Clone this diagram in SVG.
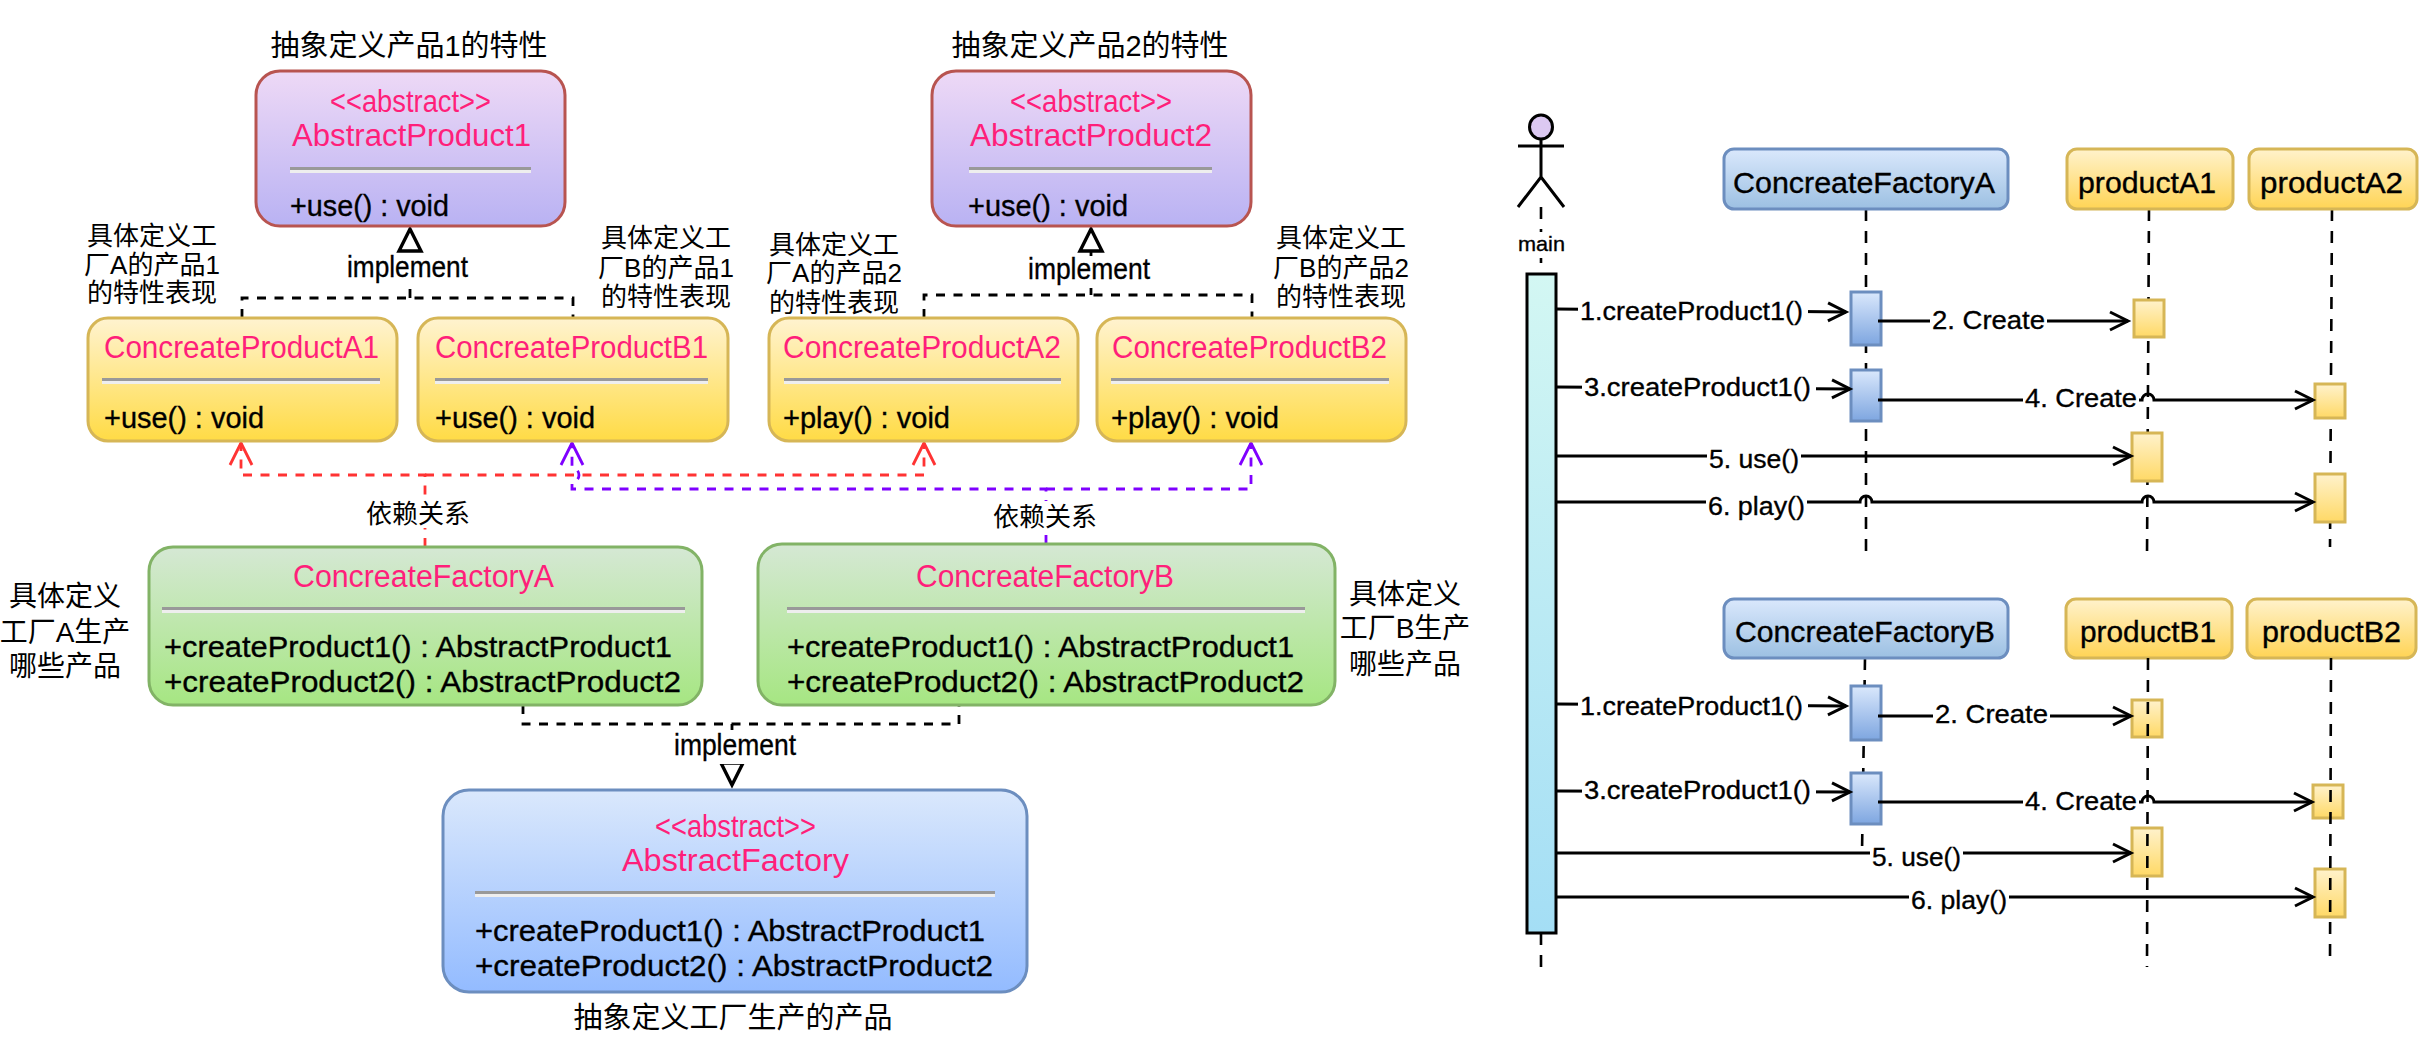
<svg xmlns="http://www.w3.org/2000/svg" width="2432" height="1042" viewBox="0 0 2432 1042">
<style>
text{font-family:"Liberation Sans","Noto Sans CJK SC",sans-serif;fill:#000}
.cn{font-size:29px;text-anchor:middle}
.nt{font-size:26px;text-anchor:middle}
.nf{font-size:28px;text-anchor:middle}
.t{font-size:30px;stroke:#000;stroke-width:.35}
.p{font-size:31px;fill:#ff1f7a}
.m{font-size:26px;stroke:#000;stroke-width:.35}
.h{font-size:29px;stroke:#000;stroke-width:.35}
.box{stroke-width:3}
.pu{fill:url(#gPurple);stroke:#b85450}
.ye{fill:url(#gYellow);stroke:#d6b656}
.gr{fill:url(#gGreen);stroke:#82b366}
.bl{fill:url(#gBlue);stroke:#6c8ebf}
.sb{fill:url(#gSeqBlue);stroke:#6c8ebf}
.sy{fill:url(#gSeqYellow);stroke:#d6b656}
.ab{fill:url(#gActBlue);stroke:#6c8ebf;stroke-width:3}
.ay{fill:url(#gActYellow);stroke:#d6b656;stroke-width:3}
.sd{fill:#999}
.sl{fill:#eee}
.c{fill:none;stroke-width:2.8}
.blk{stroke:#000}
.dash{stroke-dasharray:9 8.5}
.red{stroke:#ff3333;stroke-dasharray:9 8.5}
.vio{stroke:#7f00ff;stroke-dasharray:9 8.5}
.life{fill:none;stroke:#000;stroke-width:2.6;stroke-dasharray:12 10}
.msg{fill:none;stroke:#000;stroke-width:3;marker-end:url(#open)}
.bg{fill:#fff}
</style>
<defs>
<linearGradient id="gPurple" x1="0" y1="0" x2="0" y2="1"><stop offset="0" stop-color="#eed9f6"/><stop offset="1" stop-color="#b9b2f3"/></linearGradient>
<linearGradient id="gYellow" x1="0" y1="0" x2="0" y2="1"><stop offset="0" stop-color="#fff3d0"/><stop offset="1" stop-color="#ffdb45"/></linearGradient>
<linearGradient id="gGreen" x1="0" y1="0" x2="0" y2="1"><stop offset="0" stop-color="#d5e8d4"/><stop offset="1" stop-color="#a6e682"/></linearGradient>
<linearGradient id="gBlue" x1="0" y1="0" x2="0" y2="1"><stop offset="0" stop-color="#dae8fc"/><stop offset="1" stop-color="#93bbff"/></linearGradient>
<linearGradient id="gSeqBlue" x1="0" y1="0" x2="0" y2="1"><stop offset="0" stop-color="#dae8fc"/><stop offset="1" stop-color="#9cc0e2"/></linearGradient>
<linearGradient id="gSeqYellow" x1="0" y1="0" x2="0" y2="1"><stop offset="0" stop-color="#fff2cc"/><stop offset="1" stop-color="#ffd455"/></linearGradient>
<linearGradient id="gActBlue" x1="0" y1="0" x2="0" y2="1"><stop offset="0" stop-color="#dae8fc"/><stop offset="1" stop-color="#7ea6e0"/></linearGradient>
<linearGradient id="gActYellow" x1="0" y1="0" x2="0" y2="1"><stop offset="0" stop-color="#fff2cc"/><stop offset="1" stop-color="#ffd966"/></linearGradient>
<linearGradient id="gBar" x1="0" y1="0" x2="0" y2="1"><stop offset="0" stop-color="#d3f7f3"/><stop offset="1" stop-color="#a4def5"/></linearGradient>
<marker id="open" markerUnits="userSpaceOnUse" markerWidth="40" markerHeight="40" viewBox="-30 -20 40 40" refX="0" refY="0" orient="auto"><path d="M-18 -9 L0 0 L-18 9" fill="none" stroke="#000" stroke-width="3"/></marker>
<marker id="openRed" markerUnits="userSpaceOnUse" markerWidth="40" markerHeight="40" viewBox="-30 -20 40 40" refX="0" refY="0" orient="auto"><path d="M-22 -11 L0 0 L-22 11" fill="none" stroke="#ff3333" stroke-width="2.8"/></marker>
<marker id="openVio" markerUnits="userSpaceOnUse" markerWidth="40" markerHeight="40" viewBox="-30 -20 40 40" refX="0" refY="0" orient="auto"><path d="M-22 -11 L0 0 L-22 11" fill="none" stroke="#7f00ff" stroke-width="2.8"/></marker>
<marker id="tri" markerUnits="userSpaceOnUse" markerWidth="40" markerHeight="40" viewBox="-30 -20 40 40" refX="0" refY="0" orient="auto"><path d="M-22 -11 L0 0 L-22 11 Z" fill="#fff" stroke="#000" stroke-width="3.4"/></marker>
</defs>
<rect width="2432" height="1042" fill="#fff"/>

<g id="connectors">
<path class="c blk dash" d="M242 318V298H573V318"/>
<path class="c blk dash" d="M410 298V229" marker-end="url(#tri)"/>
<rect class="bg" x="345" y="254" width="126" height="33"/>
<text class="t" x="347" y="277" textLength="121" lengthAdjust="spacingAndGlyphs">implement</text>
<path class="c blk dash" d="M924 318V295H1252V318"/>
<path class="c blk dash" d="M1091 295V229" marker-end="url(#tri)"/>
<rect class="bg" x="1026" y="256" width="126" height="32"/>
<text class="t" x="1028" y="279" textLength="122" lengthAdjust="spacingAndGlyphs">implement</text>
<path class="c vio" d="M1046 544V489H572V482A7 7 0 0 0 572 468V443" marker-end="url(#openVio)"/>
<path class="c vio" d="M1046 489H1251V443" marker-end="url(#openVio)"/>
<path class="c red" d="M425 547V475H241V443" marker-end="url(#openRed)"/>
<path class="c red" d="M425 475H924V443" marker-end="url(#openRed)"/>
<rect class="bg" x="365" y="496" width="108" height="32"/>
<text class="nt" x="418" y="523">依赖关系</text>
<rect class="bg" x="992" y="501" width="108" height="33"/>
<text class="nt" x="1045" y="526">依赖关系</text>
<path class="c blk dash" d="M523 705V724H959V705"/>
<path class="c blk dash" d="M732 724V785" marker-end="url(#tri)"/>
<rect class="bg" x="672" y="730" width="126" height="34"/>
<text class="t" x="674" y="755" textLength="122" lengthAdjust="spacingAndGlyphs">implement</text>

<path class="life" d="M1541 207V273"/>
<path class="life" d="M1541 933V973"/>
<rect class="bg" x="1516" y="232" width="50" height="26"/>
<text x="1518" y="251" font-size="21" stroke="#000" stroke-width=".35" textLength="47" lengthAdjust="spacingAndGlyphs">main</text>
<path class="life" d="M1866 209V558"/>
<path class="life" d="M2149 209L2147 558"/>
<path class="life" d="M2332 209L2330 547"/>
<path class="life" d="M1865 658L1862 853"/>
</g>

<g id="note-labels">
<text class="cn" x="409" y="56">抽象定义产品1的特性</text>
<text class="cn" x="1090" y="56">抽象定义产品2的特性</text>
<text class="nt" x="152" y="245">具体定义工</text><text class="nt" x="152" y="274">厂A的产品1</text><text class="nt" x="152" y="302">的特性表现</text>
<text class="nt" x="666" y="247">具体定义工</text><text class="nt" x="666" y="277">厂B的产品1</text><text class="nt" x="666" y="306">的特性表现</text>
<text class="nt" x="834" y="254">具体定义工</text><text class="nt" x="834" y="282">厂A的产品2</text><text class="nt" x="834" y="312">的特性表现</text>
<text class="nt" x="1341" y="247">具体定义工</text><text class="nt" x="1341" y="277">厂B的产品2</text><text class="nt" x="1341" y="306">的特性表现</text>
<text class="nf" x="65" y="606">具体定义</text><text class="nf" x="65" y="642">工厂A生产</text><text class="nf" x="65" y="676">哪些产品</text>
<text class="nf" x="1405" y="604">具体定义</text><text class="nf" x="1405" y="638">工厂B生产</text><text class="nf" x="1405" y="674">哪些产品</text>
<text class="cn" x="733" y="1028">抽象定义工厂生产的产品</text>
</g>

<g id="AbstractProduct1">
<rect class="box pu" x="256" y="71" width="309" height="155" rx="24"/>
<text class="p" x="330" y="112" textLength="161" lengthAdjust="spacingAndGlyphs">&lt;&lt;abstract&gt;&gt;</text>
<text class="p" x="292" y="146" textLength="239" lengthAdjust="spacingAndGlyphs">AbstractProduct1</text>
<rect class="sd" x="290" y="167" width="241" height="3"/><rect class="sl" x="290" y="170" width="241" height="3"/>
<text class="t" x="290" y="216" textLength="159" lengthAdjust="spacingAndGlyphs">+use() : void</text>
</g>
<g id="AbstractProduct2">
<rect class="box pu" x="932" y="71" width="319" height="155" rx="24"/>
<text class="p" x="1010" y="112" textLength="162" lengthAdjust="spacingAndGlyphs">&lt;&lt;abstract&gt;&gt;</text>
<text class="p" x="970" y="146" textLength="242" lengthAdjust="spacingAndGlyphs">AbstractProduct2</text>
<rect class="sd" x="969" y="167" width="243" height="3"/><rect class="sl" x="969" y="170" width="243" height="3"/>
<text class="t" x="968" y="216" textLength="160" lengthAdjust="spacingAndGlyphs">+use() : void</text>
</g>
<g id="ConcreateProductA1">
<rect class="box ye" x="88" y="318" width="309" height="123" rx="20"/>
<text class="p" x="104" y="358" textLength="275" lengthAdjust="spacingAndGlyphs">ConcreateProductA1</text>
<rect class="sd" x="102" y="378" width="278" height="3"/><rect class="sl" x="102" y="381" width="278" height="3"/>
<text class="t" x="104" y="428" textLength="160" lengthAdjust="spacingAndGlyphs">+use() : void</text>
</g>
<g id="ConcreateProductB1">
<rect class="box ye" x="418" y="318" width="310" height="123" rx="20"/>
<text class="p" x="435" y="358" textLength="273" lengthAdjust="spacingAndGlyphs">ConcreateProductB1</text>
<rect class="sd" x="435" y="378" width="273" height="3"/><rect class="sl" x="435" y="381" width="273" height="3"/>
<text class="t" x="435" y="428" textLength="160" lengthAdjust="spacingAndGlyphs">+use() : void</text>
</g>
<g id="ConcreateProductA2">
<rect class="box ye" x="769" y="318" width="309" height="123" rx="20"/>
<text class="p" x="783" y="358" textLength="278" lengthAdjust="spacingAndGlyphs">ConcreateProductA2</text>
<rect class="sd" x="784" y="378" width="277" height="3"/><rect class="sl" x="784" y="381" width="277" height="3"/>
<text class="t" x="783" y="428" textLength="167" lengthAdjust="spacingAndGlyphs">+play() : void</text>
</g>
<g id="ConcreateProductB2">
<rect class="box ye" x="1097" y="318" width="309" height="123" rx="20"/>
<text class="p" x="1112" y="358" textLength="275" lengthAdjust="spacingAndGlyphs">ConcreateProductB2</text>
<rect class="sd" x="1111" y="378" width="278" height="3"/><rect class="sl" x="1111" y="381" width="278" height="3"/>
<text class="t" x="1111" y="428" textLength="168" lengthAdjust="spacingAndGlyphs">+play() : void</text>
</g>
<g id="ConcreateFactoryA">
<rect class="box gr" x="149" y="547" width="553" height="158" rx="24"/>
<text class="p" x="293" y="587" textLength="261" lengthAdjust="spacingAndGlyphs">ConcreateFactoryA</text>
<rect class="sd" x="162" y="607" width="523" height="3"/><rect class="sl" x="162" y="610" width="523" height="3"/>
<text class="t" x="164" y="657" textLength="508" lengthAdjust="spacingAndGlyphs">+createProduct1() : AbstractProduct1</text>
<text class="t" x="164" y="692" textLength="517" lengthAdjust="spacingAndGlyphs">+createProduct2() : AbstractProduct2</text>
</g>
<g id="ConcreateFactoryB">
<rect class="box gr" x="758" y="544" width="577" height="161" rx="24"/>
<text class="p" x="916" y="587" textLength="258" lengthAdjust="spacingAndGlyphs">ConcreateFactoryB</text>
<rect class="sd" x="787" y="607" width="518" height="3"/><rect class="sl" x="787" y="610" width="518" height="3"/>
<text class="t" x="787" y="657" textLength="507" lengthAdjust="spacingAndGlyphs">+createProduct1() : AbstractProduct1</text>
<text class="t" x="787" y="692" textLength="517" lengthAdjust="spacingAndGlyphs">+createProduct2() : AbstractProduct2</text>
</g>
<g id="AbstractFactory">
<rect class="box bl" x="443" y="790" width="584" height="202" rx="26"/>
<text class="p" x="655" y="837" textLength="161" lengthAdjust="spacingAndGlyphs">&lt;&lt;abstract&gt;&gt;</text>
<text class="p" x="622" y="871" textLength="227" lengthAdjust="spacingAndGlyphs">AbstractFactory</text>
<rect class="sd" x="475" y="891" width="520" height="3"/><rect class="sl" x="475" y="894" width="520" height="3"/>
<text class="t" x="475" y="941" textLength="510" lengthAdjust="spacingAndGlyphs">+createProduct1() : AbstractProduct1</text>
<text class="t" x="475" y="976" textLength="518" lengthAdjust="spacingAndGlyphs">+createProduct2() : AbstractProduct2</text>
</g>

<g id="main" fill="none" stroke="#000" stroke-width="3">
<ellipse cx="1541" cy="127" rx="11.5" ry="12" fill="#dcc9f2"/>
<path d="M1518 146H1564M1541 139V177M1518 207L1541 177L1564 207"/>
<rect x="1527" y="274" width="29" height="659" fill="url(#gBar)"/>
</g>
<g id="ConcreateFactoryA-seq">
<rect class="box sb" x="1724" y="149" width="284" height="60" rx="10"/>
<text class="h" x="1733" y="193" textLength="262" lengthAdjust="spacingAndGlyphs">ConcreateFactoryA</text>
<rect class="ab" x="1851" y="292" width="30" height="53"/>
<rect class="ab" x="1851" y="370" width="30" height="51"/>
</g>
<g id="productA1">
<rect class="box sy" x="2067" y="149" width="166" height="60" rx="10"/>
<text class="h" x="2078" y="193" textLength="138" lengthAdjust="spacingAndGlyphs">productA1</text>
<rect class="ay" x="2134" y="300" width="30" height="37"/>
<rect class="ay" x="2132" y="433" width="30" height="48"/>
</g>
<g id="productA2">
<rect class="box sy" x="2249" y="149" width="168" height="60" rx="10"/>
<text class="h" x="2260" y="193" textLength="143" lengthAdjust="spacingAndGlyphs">productA2</text>
<rect class="ay" x="2315" y="384" width="30" height="34"/>
<rect class="ay" x="2315" y="474" width="30" height="48"/>
</g>
<g id="ConcreateFactoryB-seq">
<rect class="box sb" x="1724" y="599" width="284" height="59" rx="10"/>
<text class="h" x="1735" y="642" textLength="260" lengthAdjust="spacingAndGlyphs">ConcreateFactoryB</text>
<rect class="ab" x="1851" y="686" width="30" height="54"/>
<rect class="ab" x="1851" y="773" width="30" height="51"/>
</g>
<g id="productB1">
<rect class="box sy" x="2066" y="599" width="166" height="59" rx="10"/>
<text class="h" x="2080" y="642" textLength="136" lengthAdjust="spacingAndGlyphs">productB1</text>
<rect class="ay" x="2132" y="700" width="30" height="37"/>
<rect class="ay" x="2132" y="828" width="30" height="48"/>
</g>
<g id="productB2">
<rect class="box sy" x="2247" y="599" width="169" height="59" rx="10"/>
<text class="h" x="2262" y="642" textLength="139" lengthAdjust="spacingAndGlyphs">productB2</text>
<rect class="ay" x="2313" y="785" width="30" height="33"/>
<rect class="ay" x="2315" y="869" width="30" height="48"/>
</g>

<g id="messages">
<path class="life" d="M2148 658L2147 967"/>
<path class="life" d="M2331 658L2330 962"/>
<path class="msg" d="M1556 309L1846 312"/>
<rect class="bg" x="1578" y="294" width="230" height="34"/>
<text class="m" x="1580" y="320" textLength="223" lengthAdjust="spacingAndGlyphs">1.createProduct1()</text>
<path class="msg" d="M1878 321H2128"/>
<rect class="bg" x="1930" y="304" width="117" height="34"/>
<text class="m" x="1932" y="329" textLength="113" lengthAdjust="spacingAndGlyphs">2. Create</text>
<path class="msg" d="M1556 387L1850 389"/>
<rect class="bg" x="1582" y="372" width="234" height="34"/>
<text class="m" x="1584" y="396" textLength="227" lengthAdjust="spacingAndGlyphs">3.createProduct1()</text>
<path class="msg" d="M1878 400H2142A6 6 0 0 1 2154 400H2313"/>
<rect class="bg" x="2023" y="383" width="116" height="34"/>
<text class="m" x="2025" y="407" textLength="112" lengthAdjust="spacingAndGlyphs">4. Create</text>
<path class="msg" d="M1556 456H2131"/>
<rect class="bg" x="1707" y="442" width="94" height="36"/>
<text class="m" x="1709" y="468" textLength="90" lengthAdjust="spacingAndGlyphs">5. use()</text>
<path class="msg" d="M1556 502H1860A6 6 0 0 1 1872 502H2142A6 6 0 0 1 2154 502H2313"/>
<rect class="bg" x="1706" y="488" width="101" height="36"/>
<text class="m" x="1708" y="515" textLength="97" lengthAdjust="spacingAndGlyphs">6. play()</text>
<path class="msg" d="M1556 704L1846 706"/>
<rect class="bg" x="1578" y="690" width="230" height="34"/>
<text class="m" x="1580" y="715" textLength="223" lengthAdjust="spacingAndGlyphs">1.createProduct1()</text>
<path class="msg" d="M1878 716H2131"/>
<rect class="bg" x="1933" y="700" width="117" height="32"/>
<text class="m" x="1935" y="723" textLength="113" lengthAdjust="spacingAndGlyphs">2. Create</text>
<path class="msg" d="M1556 791L1850 792"/>
<rect class="bg" x="1582" y="775" width="234" height="34"/>
<text class="m" x="1584" y="799" textLength="227" lengthAdjust="spacingAndGlyphs">3.createProduct1()</text>
<path class="msg" d="M1878 802H2142A6 6 0 0 1 2154 802H2312"/>
<rect class="bg" x="2023" y="786" width="116" height="32"/>
<text class="m" x="2025" y="810" textLength="112" lengthAdjust="spacingAndGlyphs">4. Create</text>
<path class="msg" d="M1556 853H2131"/>
<rect class="bg" x="1870" y="842" width="93" height="36"/>
<text class="m" x="1872" y="866" textLength="89" lengthAdjust="spacingAndGlyphs">5. use()</text>
<path class="msg" d="M1556 897H2313"/>
<rect class="bg" x="1909" y="883" width="100" height="36"/>
<text class="m" x="1911" y="909" textLength="96" lengthAdjust="spacingAndGlyphs">6. play()</text>
</g>
</svg>
